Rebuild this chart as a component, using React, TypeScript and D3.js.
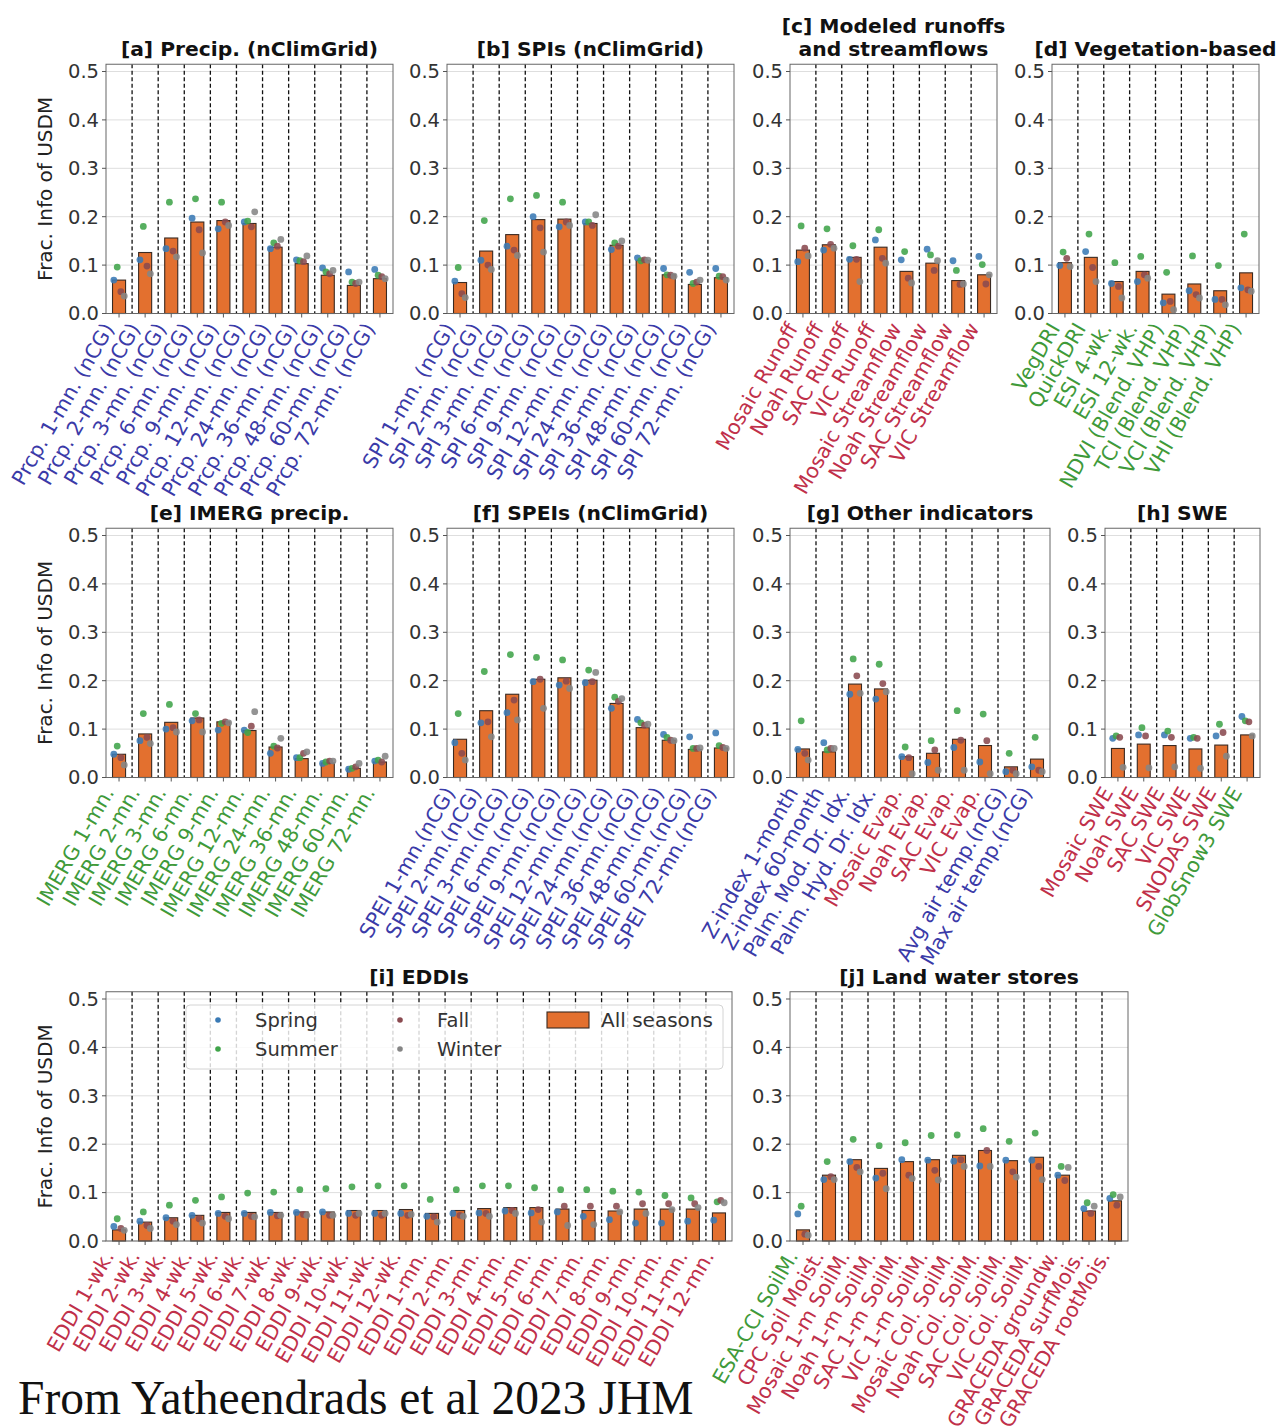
import React from 'react';
import * as d3 from 'd3';

// ---------- DATA ----------
const aLabels = ["Prcp. 1-mn. (nCG)", "Prcp. 2-mn. (nCG)", "Prcp. 3-mn. (nCG)", "Prcp. 6-mn. (nCG)", "Prcp. 9-mn. (nCG)", "Prcp. 12-mn. (nCG)", "Prcp. 24-mn. (nCG)", "Prcp. 36-mn. (nCG)", "Prcp. 48-mn. (nCG)", "Prcp. 60-mn. (nCG)", "Prcp. 72-mn. (nCG)"];
const aGroups = ["B", "B", "B", "B", "B", "B", "B", "B", "B", "B", "B"];
const aAll = [0.069, 0.126, 0.156, 0.189, 0.192, 0.186, 0.137, 0.103, 0.079, 0.058, 0.072];
const aSpring = [0.069, 0.111, 0.134, 0.197, 0.175, 0.189, 0.134, 0.111, 0.094, 0.086, 0.091];
const aSummer = [0.096, 0.18, 0.23, 0.237, 0.23, 0.191, 0.146, 0.109, 0.086, 0.065, 0.079];
const aFall = [0.045, 0.098, 0.129, 0.173, 0.189, 0.179, 0.139, 0.107, 0.082, 0.062, 0.076];
const aWinter = [0.036, 0.082, 0.117, 0.125, 0.182, 0.21, 0.153, 0.119, 0.089, 0.065, 0.072];

const bLabels = ["SPI 1-mn. (nCG)", "SPI 2-mn. (nCG)", "SPI 3-mn. (nCG)", "SPI 6-mn. (nCG)", "SPI 9-mn. (nCG)", "SPI 12-mn. (nCG)", "SPI 24-mn. (nCG)", "SPI 36-mn. (nCG)", "SPI 48-mn. (nCG)", "SPI 60-mn. (nCG)", "SPI 72-mn. (nCG)"];
const bGroups = ["B", "B", "B", "B", "B", "B", "B", "B", "B", "B", "B"];
const bAll = [0.064, 0.129, 0.163, 0.194, 0.195, 0.186, 0.141, 0.11, 0.08, 0.06, 0.074];
const bSpring = [0.067, 0.11, 0.139, 0.2, 0.179, 0.189, 0.132, 0.115, 0.093, 0.085, 0.093];
const bSummer = [0.095, 0.192, 0.237, 0.244, 0.23, 0.189, 0.146, 0.109, 0.08, 0.062, 0.077];
const bFall = [0.041, 0.1, 0.131, 0.177, 0.189, 0.182, 0.139, 0.111, 0.079, 0.065, 0.076];
const bWinter = [0.033, 0.091, 0.12, 0.127, 0.182, 0.204, 0.15, 0.11, 0.077, 0.069, 0.069];

const cLabels = ["Mosaic Runoff", "Noah Runoff", "SAC Runoff", "VIC Runoff", "Mosaic Streamflow", "Noah Streamflow", "SAC Streamflow", "VIC Streamflow"];
const cGroups = ["R", "R", "R", "R", "R", "R", "R", "R"];
const cAll = [0.131, 0.142, 0.116, 0.137, 0.087, 0.104, 0.068, 0.08];
const cSpring = [0.107, 0.131, 0.112, 0.152, 0.111, 0.133, 0.109, 0.118];
const cSummer = [0.181, 0.175, 0.14, 0.173, 0.128, 0.121, 0.089, 0.101];
const cFall = [0.135, 0.143, 0.112, 0.114, 0.073, 0.089, 0.06, 0.061];
const cWinter = [0.119, 0.135, 0.066, 0.104, 0.063, 0.109, 0.061, 0.08];

const dLabels = ["VegDRI", "QuickDRI", "ESI 4-wk.", "ESI 12-wk.", "NDVI (Blend. VHP)", "TCI (Blend. VHP)", "VCI (Blend. VHP)", "VHI (Blend. VHP)"];
const dGroups = ["G", "G", "G", "G", "G", "G", "G", "G"];
const dAll = [0.105, 0.116, 0.066, 0.087, 0.04, 0.061, 0.047, 0.084];
const dSpring = [0.099, 0.128, 0.062, 0.066, 0.022, 0.047, 0.029, 0.053];
const dSummer = [0.127, 0.164, 0.105, 0.118, 0.085, 0.119, 0.099, 0.164];
const dFall = [0.114, 0.095, 0.056, 0.08, 0.025, 0.039, 0.029, 0.049];
const dWinter = [0.097, 0.066, 0.032, 0.073, 0.008, 0.032, 0.018, 0.046];

const eLabels = ["IMERG 1-mn.", "IMERG 2-mn.", "IMERG 3-mn.", "IMERG 6-mn.", "IMERG 9-mn.", "IMERG 12-mn.", "IMERG 24-mn.", "IMERG 36-mn.", "IMERG 48-mn.", "IMERG 60-mn.", "IMERG 72-mn."];
const eGroups = ["G", "G", "G", "G", "G", "G", "G", "G", "G", "G", "G"];
const eAll = [0.048, 0.09, 0.114, 0.123, 0.115, 0.097, 0.063, 0.039, 0.03, 0.019, 0.032];
const eSpring = [0.048, 0.076, 0.1, 0.117, 0.098, 0.098, 0.05, 0.041, 0.029, 0.017, 0.034];
const eSummer = [0.065, 0.132, 0.151, 0.132, 0.112, 0.093, 0.065, 0.041, 0.032, 0.019, 0.036];
const eFall = [0.041, 0.083, 0.103, 0.119, 0.115, 0.106, 0.061, 0.05, 0.034, 0.022, 0.032];
const eWinter = [0.026, 0.07, 0.094, 0.094, 0.113, 0.136, 0.081, 0.053, 0.034, 0.029, 0.044];

const fLabels = ["SPEI 1-mn.(nCG)", "SPEI 2-mn.(nCG)", "SPEI 3-mn.(nCG)", "SPEI 6-mn.(nCG)", "SPEI 9-mn.(nCG)", "SPEI 12-mn.(nCG)", "SPEI 24-mn.(nCG)", "SPEI 36-mn.(nCG)", "SPEI 48-mn.(nCG)", "SPEI 60-mn.(nCG)", "SPEI 72-mn.(nCG)"];
const fGroups = ["B", "B", "B", "B", "B", "B", "B", "B", "B", "B", "B"];
const fAll = [0.079, 0.138, 0.172, 0.203, 0.206, 0.201, 0.153, 0.103, 0.077, 0.058, 0.061];
const fSpring = [0.072, 0.113, 0.134, 0.198, 0.191, 0.196, 0.143, 0.12, 0.089, 0.084, 0.092];
const fSummer = [0.132, 0.219, 0.254, 0.248, 0.243, 0.222, 0.166, 0.113, 0.083, 0.06, 0.066];
const fFall = [0.05, 0.115, 0.16, 0.203, 0.199, 0.198, 0.157, 0.108, 0.077, 0.06, 0.062];
const fWinter = [0.036, 0.084, 0.119, 0.143, 0.184, 0.217, 0.163, 0.11, 0.076, 0.061, 0.06];

const gLabels = ["Z-index 1-month", "Z-index 60-month", "Palm. Mod. Dr. Idx.", "Palm. Hyd. Dr. Idx.", "Mosaic Evap.", "Noah Evap.", "SAC Evap.", "VIC Evap.", "Avg air temp.(nCG)", "Max air temp.(nCG)"];
const gGroups = ["B", "B", "B", "B", "R", "R", "R", "R", "B", "B"];
const gAll = [0.059, 0.053, 0.193, 0.183, 0.043, 0.05, 0.079, 0.066, 0.022, 0.038];
const gSpring = [0.058, 0.072, 0.172, 0.162, 0.043, 0.031, 0.062, 0.032, 0.012, 0.022];
const gSummer = [0.117, 0.057, 0.245, 0.234, 0.063, 0.076, 0.138, 0.131, 0.05, 0.083];
const gFall = [0.05, 0.06, 0.21, 0.194, 0.041, 0.057, 0.077, 0.076, 0.015, 0.015];
const gWinter = [0.036, 0.06, 0.174, 0.177, 0.008, 0.015, 0.015, 0.008, 0.008, 0.012];

const hLabels = ["Mosaic SWE", "Noah SWE", "SAC SWE", "VIC SWE", "SNODAS SWE", "GlobSnow3 SWE"];
const hGroups = ["R", "R", "R", "R", "R", "G"];
const hAll = [0.06, 0.069, 0.066, 0.059, 0.067, 0.088];
const hSpring = [0.081, 0.088, 0.088, 0.081, 0.086, 0.126];
const hSummer = [0.086, 0.103, 0.096, 0.083, 0.11, 0.117];
const hFall = [0.083, 0.086, 0.083, 0.081, 0.093, 0.115];
const hWinter = [0.021, 0.02, 0.022, 0.019, 0.044, 0.086];

const iLabels = ["EDDI 1-wk.", "EDDI 2-wk.", "EDDI 3-wk.", "EDDI 4-wk.", "EDDI 5-wk.", "EDDI 6-wk.", "EDDI 7-wk.", "EDDI 8-wk.", "EDDI 9-wk.", "EDDI 10-wk.", "EDDI 11-wk.", "EDDI 12-wk.", "EDDI 1-mn.", "EDDI 2-mn.", "EDDI 3-mn.", "EDDI 4-mn.", "EDDI 5-mn.", "EDDI 6-mn.", "EDDI 7-mn.", "EDDI 8-mn.", "EDDI 9-mn.", "EDDI 10-mn.", "EDDI 11-mn.", "EDDI 12-mn."];
const iGroups = ["R", "R", "R", "R", "R", "R", "R", "R", "R", "R", "R", "R", "R", "R", "R", "R", "R", "R", "R", "R", "R", "R", "R", "R"];
const iAll = [0.023, 0.039, 0.048, 0.053, 0.059, 0.059, 0.059, 0.06, 0.06, 0.063, 0.063, 0.065, 0.057, 0.063, 0.067, 0.069, 0.069, 0.066, 0.063, 0.062, 0.066, 0.066, 0.066, 0.058];
const iSpring = [0.03, 0.041, 0.048, 0.053, 0.057, 0.057, 0.059, 0.059, 0.06, 0.057, 0.057, 0.057, 0.051, 0.057, 0.058, 0.062, 0.058, 0.06, 0.051, 0.044, 0.037, 0.037, 0.041, 0.043];
const iSummer = [0.046, 0.06, 0.074, 0.084, 0.091, 0.099, 0.101, 0.106, 0.108, 0.112, 0.114, 0.114, 0.086, 0.106, 0.114, 0.114, 0.11, 0.106, 0.106, 0.103, 0.101, 0.094, 0.089, 0.081];
const iFall = [0.026, 0.032, 0.041, 0.046, 0.051, 0.051, 0.052, 0.055, 0.053, 0.053, 0.053, 0.053, 0.05, 0.053, 0.057, 0.063, 0.065, 0.072, 0.072, 0.072, 0.077, 0.077, 0.077, 0.084];
const iWinter = [0.022, 0.026, 0.034, 0.037, 0.046, 0.05, 0.053, 0.053, 0.053, 0.057, 0.057, 0.055, 0.039, 0.051, 0.051, 0.057, 0.039, 0.032, 0.034, 0.06, 0.057, 0.065, 0.069, 0.079];

const jLabels = ["ESA-CCI SoilM.", "CPC Soil Moist.", "Mosaic 1-m SoilM.", "Noah 1-m SoilM.", "SAC 1-m SoilM.", "VIC 1-m SoilM.", "Mosaic Col. SoilM.", "Noah Col. SoilM.", "SAC Col. SoilM.", "VIC Col. SoilM.", "GRACEDA groundw.", "GRACEDA surfMois.", "GRACEDA rootMois."];
const jGroups = ["G", "R", "R", "R", "R", "R", "R", "R", "R", "R", "R", "R", "R"];
const jAll = [0.023, 0.136, 0.168, 0.15, 0.164, 0.168, 0.177, 0.187, 0.166, 0.173, 0.136, 0.062, 0.083];
const jSpring = [0.056, 0.127, 0.164, 0.13, 0.168, 0.167, 0.165, 0.155, 0.167, 0.167, 0.136, 0.067, 0.088];
const jSummer = [0.072, 0.164, 0.21, 0.197, 0.203, 0.218, 0.219, 0.232, 0.206, 0.223, 0.154, 0.079, 0.096];
const jFall = [0.014, 0.133, 0.152, 0.14, 0.136, 0.146, 0.168, 0.187, 0.143, 0.154, 0.125, 0.057, 0.074];
const jWinter = [0.012, 0.127, 0.143, 0.108, 0.129, 0.126, 0.154, 0.154, 0.132, 0.127, 0.152, 0.072, 0.091];

const yTicks = [0, 0.1, 0.2, 0.3, 0.4, 0.5];
const seasonNames = ["Spring", "Summer", "Fall", "Winter"];
const barName = "All seasons";
const yAxisTitle = "Frac. Info of USDM";
const footer = "From Yatheendrads et al 2023 JHM";

// ---------- STYLE ----------
const FONT = "'DejaVu Sans', sans-serif";
const YMAX = 0.515;
const PX = 484; // pixels per 1.0
const SEASON_COLORS = ["#3a7ab5", "#40a44a", "#8a4a50", "#858585"];
const SEASON_OFFSETS = [-0.2, -0.07, 0.07, 0.2];
const BAR_FILL = "#e3702f";
const LABEL_COLORS: Record<string, string> = { B: "#3a3aa8", R: "#c0304a", G: "#3f9a3a" };
const TICK_FS = 19.5;
const XLAB_FS = 20.5;
const TITLE_FS = 20.3;
const ANGLE = 60;

type Cfg = { left: number; right: number; bottom: number; title: string[]; yLabel?: boolean };

function Panel(props: {
  cfg: Cfg; labels: string[]; groups: string[]; all: number[];
  spring: number[]; summer: number[]; fall: number[]; winter: number[]; legend?: boolean;
}) {
  const { cfg, labels, groups, all } = props;
  const seasons = [props.spring, props.summer, props.fall, props.winter];
  const n = labels.length;
  const x = d3.scalePoint<number>().domain(d3.range(n)).range([cfg.left, cfg.right]).padding(0.5);
  const step = x.step();
  const y = d3.scaleLinear().domain([0, YMAX]).range([cfg.bottom, cfg.bottom - YMAX * PX]);
  const top = y(YMAX);
  const bottom = y(0);
  const cx = (cfg.left + cfg.right) / 2;
  const h = 0.76 * XLAB_FS, dsc = 0.24 * XLAB_FS;
  const a = (ANGLE * Math.PI) / 180;
  return (
    <g>
      {yTicks.map((t) => (
        <line key={'g' + t} x1={cfg.left} x2={cfg.right} y1={y(t)} y2={y(t)} stroke="#dedede" strokeWidth={1} />
      ))}
      {d3.range(n - 1).map((i) => (
        <line key={'d' + i} x1={x(i)! + step / 2} x2={x(i)! + step / 2} y1={top} y2={bottom}
          stroke="#111" strokeWidth={1.3} strokeDasharray="4,2.5" />
      ))}
      {all.map((v, i) => (
        <rect key={'b' + i} x={x(i)! - step * 0.25} width={step * 0.5} y={y(v)} height={bottom - y(v)}
          fill={BAR_FILL} stroke="#3a2a22" strokeWidth={1.1} />
      ))}
      {seasons.map((arr, s) =>
        arr.map((v, i) => (
          <circle key={'s' + s + '_' + i} cx={x(i)! + SEASON_OFFSETS[s] * step} cy={y(v)} r={3.4}
            fill={SEASON_COLORS[s]} fillOpacity={0.88} />
        ))
      )}
      <rect x={cfg.left} y={top} width={cfg.right - cfg.left} height={bottom - top} fill="none" stroke="#666" strokeWidth={1} />
      {yTicks.map((t) => (
        <g key={'yt' + t}>
          <line x1={cfg.left - 4} x2={cfg.left} y1={y(t)} y2={y(t)} stroke="#555" />
          <text x={cfg.left - 7} y={y(t)} dy="0.35em" textAnchor="end" fontSize={TICK_FS} fontFamily={FONT} fill="#333">
            {t.toFixed(1)}
          </text>
        </g>
      ))}
      {labels.map((lab, i) => {
        const tx = x(i)!;
        const y0 = bottom + 7;
        const ex = tx - Math.sin(a) * dsc;
        const ey = y0 + Math.cos(a) * h;
        return (
          <g key={'xt' + i}>
            <line x1={tx} x2={tx} y1={bottom} y2={bottom + 4} stroke="#555" />
            <text transform={`translate(${ex},${ey}) rotate(${-ANGLE})`} textAnchor="end" fontSize={XLAB_FS}
              fontFamily={FONT} fill={LABEL_COLORS[groups[i]]}>{lab}</text>
          </g>
        );
      })}
      {cfg.title.map((t, k) => (
        <text key={'t' + k} x={cx} y={top - 8 - (cfg.title.length - 1 - k) * 23} textAnchor="middle"
          fontSize={TITLE_FS} fontWeight="bold" fontFamily={FONT} fill="#111">{t}</text>
      ))}
      {cfg.yLabel && (
        <text transform={`translate(${52},${(top + bottom) / 2}) rotate(-90)`} textAnchor="middle"
          fontSize={20} fontFamily={FONT} fill="#222">{yAxisTitle}</text>
      )}
      {props.legend && <Legend />}
    </g>
  );
}

function Legend() {
  const lx = 186, ly = 1005, lw = 537, lh = 64;
  const rows = [1020, 1049];
  return (
    <g>
      <rect x={lx} y={ly} width={lw} height={lh} rx={4} fill="#fff" fillOpacity={0.82} stroke="#d4d4d4" />
      {seasonNames.map((s, k) => {
        const col = Math.floor(k / 2);
        const row = k % 2;
        const dx = col === 0 ? 218 : 400;
        return (
          <g key={s}>
            <circle cx={dx} cy={rows[row]} r={2.8} fill={SEASON_COLORS[k]} />
            <text x={dx + 37} y={rows[row]} dy="0.35em" fontSize={TICK_FS} fontFamily={FONT} fill="#333">{s}</text>
          </g>
        );
      })}
      <rect x={547} y={1012} width={42} height={16} fill={BAR_FILL} stroke="#3a2a22" strokeWidth={1.1} />
      <text x={601} y={1020} dy="0.35em" fontSize={20} fontFamily={FONT} fill="#333">{barName}</text>
    </g>
  );
}

const R1 = 313.5, R2 = 777.5, R3 = 1241;

export default function App() {
  return (
    <svg width={1281} height={1428} style={{ position: 'absolute', left: 0, top: 0, background: '#fff' }}>
      <rect width={1281} height={1428} fill="#fff" />
      <Panel cfg={{ left: 106, right: 393, bottom: R1, title: ["[a] Precip. (nClimGrid)"], yLabel: true }}
        labels={aLabels} groups={aGroups} all={aAll} spring={aSpring} summer={aSummer} fall={aFall} winter={aWinter} />
      <Panel cfg={{ left: 447, right: 734, bottom: R1, title: ["[b] SPIs (nClimGrid)"] }}
        labels={bLabels} groups={bGroups} all={bAll} spring={bSpring} summer={bSummer} fall={bFall} winter={bWinter} />
      <Panel cfg={{ left: 790, right: 997, bottom: R1, title: ["[c] Modeled runoffs", "and streamflows"] }}
        labels={cLabels} groups={cGroups} all={cAll} spring={cSpring} summer={cSummer} fall={cFall} winter={cWinter} />
      <Panel cfg={{ left: 1052, right: 1259, bottom: R1, title: ["[d] Vegetation-based"] }}
        labels={dLabels} groups={dGroups} all={dAll} spring={dSpring} summer={dSummer} fall={dFall} winter={dWinter} />
      <Panel cfg={{ left: 106, right: 393, bottom: R2, title: ["[e] IMERG precip."], yLabel: true }}
        labels={eLabels} groups={eGroups} all={eAll} spring={eSpring} summer={eSummer} fall={eFall} winter={eWinter} />
      <Panel cfg={{ left: 447, right: 734, bottom: R2, title: ["[f] SPEIs (nClimGrid)"] }}
        labels={fLabels} groups={fGroups} all={fAll} spring={fSpring} summer={fSummer} fall={fFall} winter={fWinter} />
      <Panel cfg={{ left: 790, right: 1050, bottom: R2, title: ["[g] Other indicators"] }}
        labels={gLabels} groups={gGroups} all={gAll} spring={gSpring} summer={gSummer} fall={gFall} winter={gWinter} />
      <Panel cfg={{ left: 1105, right: 1260, bottom: R2, title: ["[h] SWE"] }}
        labels={hLabels} groups={hGroups} all={hAll} spring={hSpring} summer={hSummer} fall={hFall} winter={hWinter} />
      <Panel cfg={{ left: 106, right: 732, bottom: R3, title: ["[i] EDDIs"], yLabel: true }} legend
        labels={iLabels} groups={iGroups} all={iAll} spring={iSpring} summer={iSummer} fall={iFall} winter={iWinter} />
      <Panel cfg={{ left: 790, right: 1128, bottom: R3, title: ["[j] Land water stores"] }}
        labels={jLabels} groups={jGroups} all={jAll} spring={jSpring} summer={jSummer} fall={jFall} winter={jWinter} />
      <text x={18} y={1414} fontSize={47.5} fontFamily="'Liberation Serif', 'Times New Roman', serif" fill="#111">{footer}</text>
    </svg>
  );
}
